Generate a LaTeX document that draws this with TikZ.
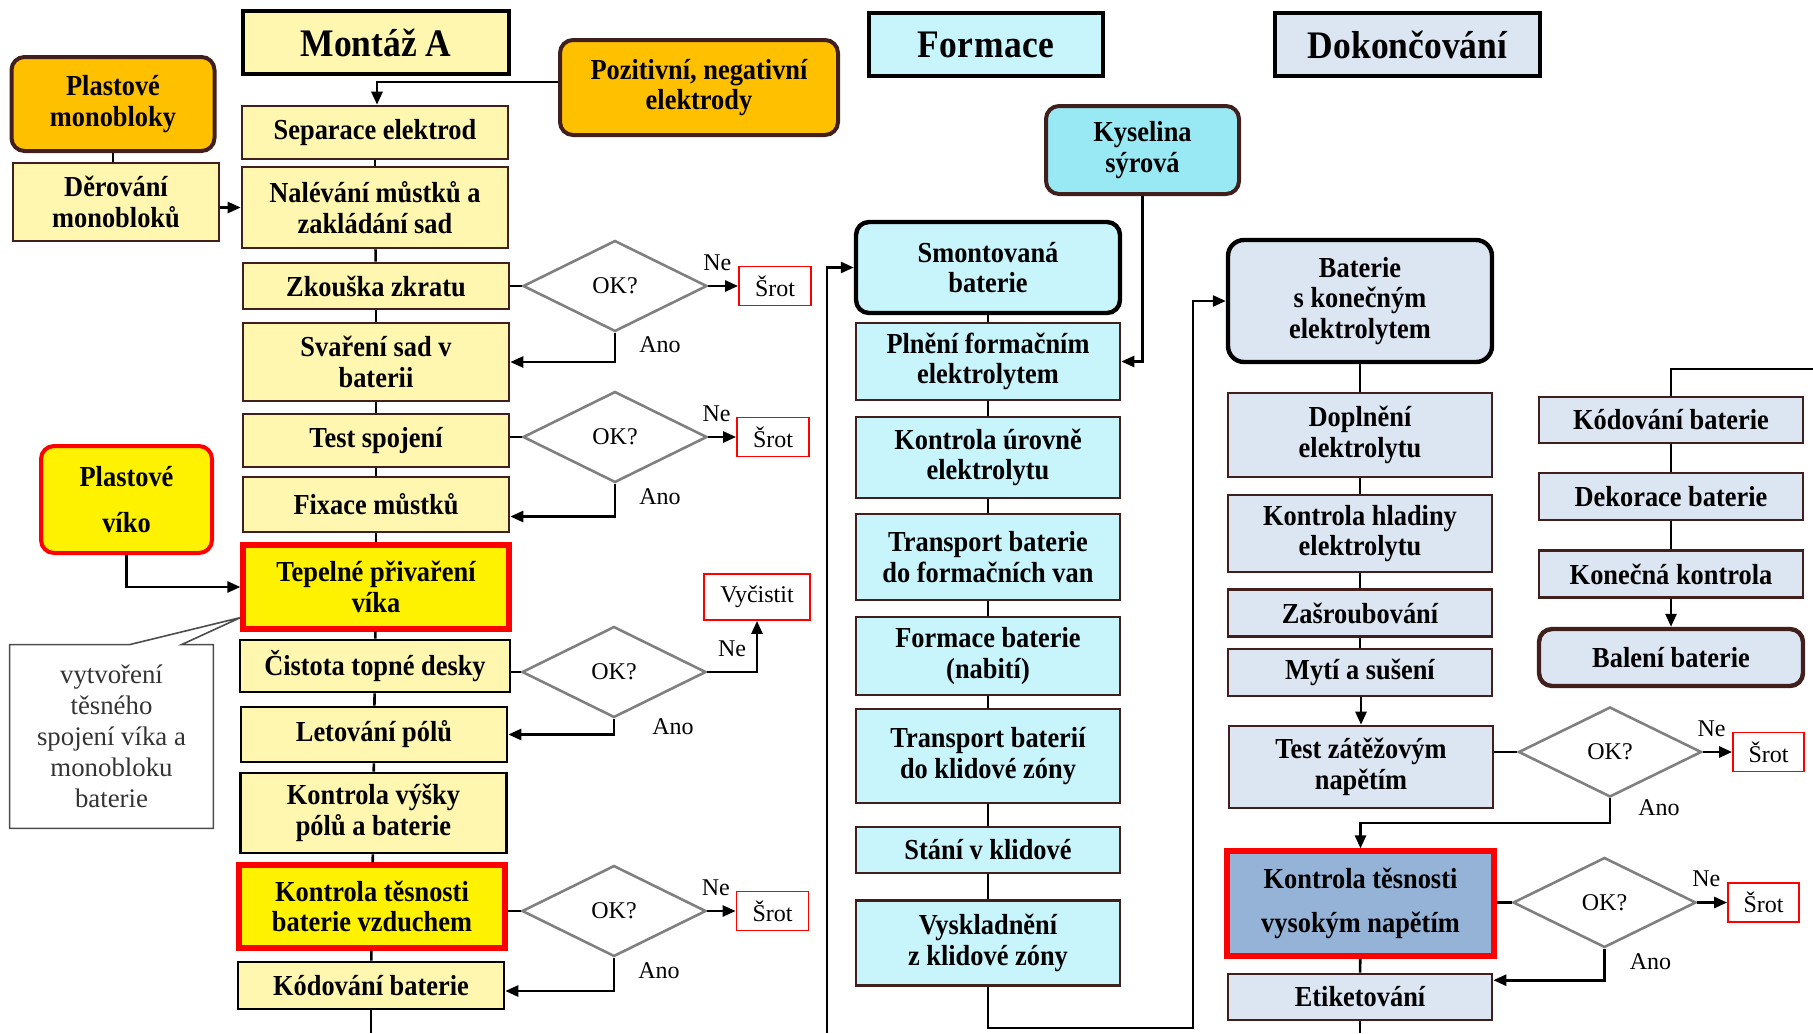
\documentclass[tikz,border=0pt]{standalone}
\usepackage{fontspec}
\setmainfont{Liberation Serif}
\newfontfamily\narrowfont{Liberation Serif}[FakeStretch=0.91]
\usepackage{tikz}
\usetikzlibrary{shapes,arrows,arrows.meta}
\usepackage{xcolor}

\definecolor{lightyel}{RGB}{255,247,175}
\definecolor{orng}{RGB}{255,192,0}
\definecolor{brownline}{RGB}{64,31,28}
\definecolor{cyanlight}{RGB}{200,244,252}
\definecolor{cyanmid}{RGB}{152,233,243}
\definecolor{bluelight}{RGB}{220,230,242}
\definecolor{bluemid}{RGB}{149,179,215}

\newcommand{\boxfont}{\narrowfont\bfseries\fontsize{14.5}{15.3}\selectfont}
\newcommand{\titlefont}{\narrowfont\bfseries\fontsize{19.5}{22}\selectfont}
\newcommand{\labelfont}{\fontsize{12}{14}\selectfont}
\newcommand{\notefont}{\fontsize{13.4}{15.5}\selectfont}

\tikzset{
  base/.style={draw=brownline, line width=1.3pt, align=center, inner sep=0pt, font=\boxfont},
  montbox/.style={base, fill=lightyel, minimum width=133pt},
  formbox/.style={base, fill=cyanlight, minimum width=132pt},
  dokbox/.style={base, fill=bluelight, minimum width=132pt},
  titlebox/.style={draw=black, line width=2.2pt, inner sep=0pt, font=\titlefont, minimum height=31.5pt},
  source/.style={base, rounded corners=6.5pt, line width=2pt},
  keybox/.style={fill=yellow, draw=red, line width=2.6pt},
  decision/.style={diamond, draw=gray, line width=1.3pt, inner sep=0pt, minimum width=92pt, minimum height=45.5pt, font=\labelfont},
  scrap/.style={draw=red, line width=0.9pt, minimum width=36pt, minimum height=19.5pt, inner sep=0pt, font=\labelfont},
  lbl/.style={font=\labelfont, inner sep=1pt},
  callline/.style={draw=black!70, line width=0.8pt},
  conn/.style={line width=1.3pt},
  arr/.style={conn, -{Triangle[length=6.5pt,width=5.5pt]}}
}

\begin{document}
\begin{tikzpicture}[x=0.5pt, y=-0.5pt]
  \useasboundingbox (0,0) rectangle (1813,1033);

  \node[titlebox, fill=lightyel, minimum width=133pt] (montaz) at (376,42.5) {Montáž A};
  \node[titlebox, fill=cyanlight, minimum width=117pt] (formace) at (986,44.5) {\addfontfeature{LetterSpace=1.5}Formace};
  \node[titlebox, fill=bluelight, minimum width=132.5pt] (dokoncovani) at (1407.5,44.5) {Dokončování};

  \node[source, fill=orng, minimum width=101.5pt, minimum height=47pt] (plastmono) at (113,104) {Plastové\\monobloky};
  \node[montbox, minimum width=103pt, minimum height=39pt] (derovani) at (116,202) {Děrování\\monobloků};
  \node[source, fill=orng, minimum width=139pt, minimum height=47.5pt] (pozit) at (699,87.5) {Pozitivní, negativní\\elektrody};
  \node[montbox, minimum height=26.5pt] (separace) at (375,132.5) {Separace elektrod};
  \node[montbox, minimum height=40.5pt] (nalevani) at (375,207.5) {Nalévání můstků a\\zakládání sad};
  \node[montbox, minimum height=23pt] (zkouska) at (376,286) {Zkouška zkratu};
  \node[montbox, minimum height=39pt] (svareni) at (376,362) {Svaření sad v\\baterii};
  \node[montbox, minimum height=26.5pt] (test) at (376,440.5) {Test spojení};
  \node[montbox, minimum height=27.5pt] (fixace) at (376,504.5) {Fixace můstků};
  \node[source, fill=yellow, draw=red, minimum width=85.5pt, minimum height=53.5pt] (plastviko) at (126.5,499.5) {Plastové\\[8pt]víko};
  \node[montbox, keybox, minimum height=42pt] (tepelne) at (376,587) {Tepelné přivaření\\víka};
  \node[montbox, draw=black, minimum width=135pt, minimum height=26pt] (cistota) at (375,666) {Čistota topné desky};
  \node[montbox, draw=black, minimum height=27.5pt] (letovani) at (374,734.5) {Letování pólů};
  \node[montbox, draw=black, minimum height=40pt] (vysky) at (373.5,813) {Kontrola výšky\\pólů a baterie};
  \node[montbox, keybox, minimum height=41.5pt] (tesnost) at (372,906.5) {Kontrola těsnosti\\baterie vzduchem};
  \node[montbox, draw=black, minimum height=23.5pt] (kodovani) at (371,985.5) {Kódování baterie};
  \node[minimum width=101.5pt, minimum height=91.5pt, align=center, font=\notefont, text=black!80] (note) at (111.5,736.5) {vytvoření\\těsného\\spojení víka a\\monobloku\\baterie};

  \node[decision] (d1) at (615,286) {OK?};
  \node[decision] (d2) at (615,437) {OK?};
  \node[decision] (d3) at (614,672) {OK?};
  \node[decision] (d4) at (614,911) {OK?};
  \node[scrap] (srot1) at (775,286) {Šrot};
  \node[scrap] (srot2) at (773,437) {Šrot};
  \node[scrap, minimum width=53pt, minimum height=23pt] (vycistit) at (757,597) {Vyčistit};
  \node[scrap] (srot4) at (772.5,911) {Šrot};

  \node[source, fill=cyanmid, minimum width=96.5pt, minimum height=44pt] (kyselina) at (1142.5,150) {Kyselina\\sýrová};
  \node[formbox, rounded corners=6.5pt, draw=black, line width=2.2pt, minimum height=45.5pt] (smontovana) at (988,267.5) {Smontovaná\\baterie};
  \node[formbox, minimum height=38.5pt] (plneni) at (988,361.5) {Plnění formačním\\elektrolytem};
  \node[formbox, minimum height=40.5pt] (urovne) at (988,457.5) {Kontrola úrovně\\elektrolytu};
  \node[formbox, minimum height=43pt] (transport1) at (988,557) {Transport baterie\\do formačních van};
  \node[formbox, minimum height=39pt] (formbat) at (988,656) {Formace baterie\\(nabití)};
  \node[formbox, minimum height=47pt] (transport2) at (988,756) {Transport baterií\\do klidové zóny};
  \node[formbox, minimum height=23pt] (stani) at (988,850) {Stání v klidové};
  \node[formbox, minimum height=42.5pt] (vyskladneni) at (988,943) {Vyskladnění\\z klidové zóny};

  \node[dokbox, rounded corners=8pt, draw=black, line width=2.2pt, minimum height=61pt] (baterie) at (1360,301) {Baterie\\s konečným\\elektrolytem};
  \node[dokbox, minimum height=42pt] (doplneni) at (1360,435) {Doplnění\\elektrolytu};
  \node[dokbox, minimum height=38.5pt] (hladiny) at (1360,533.5) {Kontrola hladiny\\elektrolytu};
  \node[dokbox, minimum height=23.5pt] (zasroub) at (1360,613) {Zašroubování};
  \node[dokbox, minimum height=23.5pt] (myti) at (1360,672.5) {Mytí a sušení};
  \node[dokbox, minimum height=41pt] (zatez) at (1361,767) {Test zátěžovým\\napětím};
  \node[dokbox, keybox, fill=bluemid, minimum width=133.5pt, minimum height=52.5pt] (tesnost2) at (1360.5,903.5) {Kontrola těsnosti\\[7pt]vysokým napětím};
  \node[dokbox, minimum height=23pt] (etiket) at (1360,997) {Etiketování};
  \node[decision, minimum width=91.5pt, minimum height=45pt] (d5) at (1610,752) {OK?};
  \node[decision, minimum width=91.5pt, minimum height=45pt] (d6) at (1604.5,902.5) {OK?};
  \node[scrap, minimum width=35.5pt] (srot5) at (1768.5,752) {Šrot};
  \node[scrap, minimum width=35.5pt] (srot6) at (1763.5,902.5) {Šrot};

  \node[dokbox, minimum height=23pt] (kod2) at (1671,420) {Kódování baterie};
  \node[dokbox, minimum height=23.5pt] (dekorace) at (1671,496.5) {Dekorace baterie};
  \node[dokbox, minimum height=23.3pt] (konecna) at (1671,574) {Konečná kontrola};
  \node[dokbox, rounded corners=6.5pt, line width=2.2pt, minimum height=28.5pt] (baleni) at (1671,657.5) {Balení baterie};

  \coordinate (fromA) at (827,1033);
  \coordinate (toB) at (371,1033);
  \coordinate (turnC) at (1193,1028);
  \coordinate (toD) at (1360,1033);
  \coordinate (fromE) at (1813,369);

  \foreach \a/\b in {separace/nalevani, nalevani/zkouska, zkouska/svareni, svareni/test, test/fixace, fixace/tepelne, tepelne/cistota, cistota/letovani, letovani/vysky, vysky/tesnost, tesnost/kodovani, smontovana/plneni, plneni/urovne, urovne/transport1, transport1/formbat, formbat/transport2, transport2/stani, stani/vyskladneni, baterie/doplneni, doplneni/hladiny, hladiny/zasroub, zasroub/myti, tesnost2/etiket, kod2/dekorace, dekorace/konecna}
    \draw[conn] (\a) -- (\b);

  \draw[conn] (plastmono.south) -- (plastmono.south |- derovani.north);
  \draw[arr] (derovani.east |- nalevani.west) -- (nalevani.west);
  \draw[arr] ([yshift=2.75pt]pozit.west) -| ([xshift=1pt]separace.north);
  \draw[arr] (plastviko.south) |- (tepelne.west);
  \draw[callline] (note.north west) -- ([xshift=60pt]note.north west) -- ([yshift=7pt]tepelne.south west) -- ([xshift=86pt]note.north west) -- (note.north east) -- (note.south east) -- (note.south west) -- cycle;

  \draw[conn] (zkouska.east |- d1.west) -- (d1.west);
  \draw[conn] (test.east |- d2.west) -- (d2.west);
  \draw[conn] (cistota.east |- d3.west) -- (d3.west);
  \draw[conn] (tesnost.east |- d4.west) -- (d4.west);
  \draw[conn] (zatez.east |- d5.west) -- (d5.west);
  \draw[conn] (tesnost2.east |- d6.west) -- (d6.west);

  \draw[arr] (d1.east) -- node[lbl, above=6pt, pos=0.3] {Ne} (srot1.west);
  \draw[arr] (d2.east) -- node[lbl, above=6pt, pos=0.3] {Ne} (srot2.west);
  \draw[arr] (d3.east) -| node[lbl, above=6pt, pos=0.25] {Ne} (vycistit.south);
  \draw[arr] (d4.east) -- node[lbl, above=6pt, pos=0.3] {Ne} (srot4.west);
  \draw[arr] (d5.east) -- node[lbl, above=6pt, pos=0.3] {Ne} (srot5.west);
  \draw[arr] (d6.east) -- node[lbl, above=6pt, pos=0.3] {Ne} (srot6.west);

  \draw[arr] (d1.south) |- node[lbl, right=10.5pt, pos=0.2] {Ano} (svareni.east);
  \draw[arr] (d2.south) |- node[lbl, right=10.5pt, pos=0.2] {Ano} ([yshift=-6pt]fixace.east);
  \draw[arr] (d3.south) |- node[lbl, right=17.5pt, pos=0.25] {Ano} (letovani.east);
  \draw[arr] (d4.south) |- node[lbl, right=10.5pt, pos=0.2] {Ano} ([yshift=-2.75pt]kodovani.east);
  \draw[arr] (d5.south) |- node[lbl, right=12.5pt, pos=0.2] {Ano} ([yshift=12.75pt]tesnost2.north) -- (tesnost2.north);
  \draw[arr] (d6.south) |- node[lbl, right=11pt, pos=0.2] {Ano} ([yshift=-3.75pt]etiket.north east);

  \draw[arr] (kyselina.south) |- (plneni.east);
  \draw[arr] (fromA) |- (smontovana.west);
  \draw[conn] (kodovani) -- (toB);
  \draw[arr] (vyskladneni.south) |- (turnC) |- (baterie.west);
  \draw[arr] (myti.south -| zatez.north) -- (zatez.north);
  \draw[conn] (etiket) -- (toD);
  \draw[conn] (fromE) -| (kod2.north);
  \draw[arr] (konecna) -- (baleni);
\end{tikzpicture}
\end{document}
